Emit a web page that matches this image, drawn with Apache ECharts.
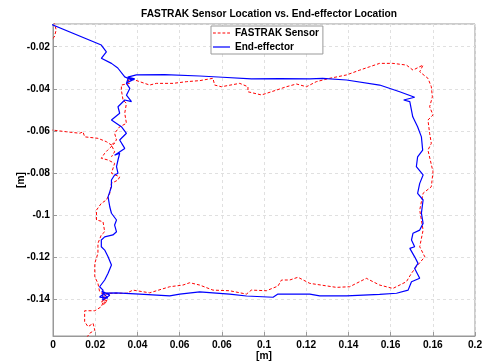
<!DOCTYPE html>
<html><head><meta charset="utf-8">
<script src="https://cdn.jsdelivr.net/npm/echarts@6/dist/echarts.min.js"></script>
<style>html,body{margin:0;padding:0;background:#fff}#c{width:486px;height:364px}</style>
</head><body><div id="c"></div>
<script>
const titleText = 'FASTRAK Sensor Location vs. End-effector Location';
const seriesNames = ['FASTRAK Sensor', 'End-effector'];
const xTickLabels = ['0','0.02','0.04','0.06','0.06','0.1','0.12','0.14','0.16','0.16','0.2'];
const yTickLabels = ['','-0.02','-0.04','-0.06','-0.08','-0.1','-0.12','-0.14'];

const endEffector = [
[-0.001,-0.0093],[0.0229,-0.0192],[0.0253,-0.0224],[0.0229,-0.0255],[0.0277,-0.0279],[0.0307,-0.0301],
[0.0340,-0.0343],[0.0373,-0.0358],[0.0349,-0.0372],[0.0387,-0.0353],[0.0354,-0.0344],[0.0395,-0.0334],
[0.0529,-0.0332],[0.0695,-0.0339],[0.0804,-0.0345],[0.0940,-0.0353],[0.1074,-0.0351],[0.1217,-0.0353],
[0.1278,-0.0350],[0.1391,-0.0358],[0.1548,-0.0382],[0.1643,-0.0414],[0.1714,-0.0440],[0.1662,-0.0453],
[0.1691,-0.0461],[0.1705,-0.0533],[0.1728,-0.0580],[0.1746,-0.0628],[0.1752,-0.0691],[0.1728,-0.0723],
[0.1722,-0.0770],[0.1754,-0.0809],[0.1738,-0.0849],[0.1728,-0.0896],[0.1754,-0.0928],[0.1746,-0.0990],
[0.1754,-0.1039],[0.1738,-0.1071],[0.1706,-0.1086],[0.1699,-0.1118],[0.1714,-0.1150],[0.1691,-0.1158],
[0.1714,-0.1198],[0.1730,-0.1229],[0.1714,-0.1253],[0.1738,-0.1300],[0.1699,-0.1316],[0.1683,-0.1356],
[0.1628,-0.1371],[0.1548,-0.1376],[0.1391,-0.1383],[0.1264,-0.1383],[0.1217,-0.1375],[0.1066,-0.1375],
[0.1043,-0.1390],[0.0917,-0.1384],[0.0837,-0.1375],[0.0695,-0.1364],[0.0601,-0.1375],[0.0553,-0.1383],
[0.0411,-0.1375],[0.0301,-0.1369],[0.0245,-0.1370],[0.0221,-0.1389],[0.0259,-0.1394],[0.0231,-0.1361],
[0.0269,-0.1380],[0.0236,-0.1403],[0.0237,-0.1356],[0.0221,-0.1340],[0.0245,-0.1308],[0.0261,-0.1276],
[0.0277,-0.1237],[0.0261,-0.1198],[0.0245,-0.1166],[0.0229,-0.1150],[0.0229,-0.1118],[0.0245,-0.1103],
[0.0284,-0.1094],[0.0301,-0.1079],[0.0292,-0.1047],[0.0301,-0.1023],[0.0277,-0.0991],[0.0269,-0.0960],
[0.0261,-0.0913],[0.0277,-0.0865],[0.0277,-0.0833],[0.0292,-0.0809],[0.0308,-0.0801],[0.0301,-0.0770],
[0.0308,-0.0738],[0.0316,-0.0706],[0.0292,-0.0715],[0.0340,-0.0683],[0.0316,-0.0643],[0.0348,-0.0611],
[0.0324,-0.0580],[0.0277,-0.0548],[0.0316,-0.0516],[0.0308,-0.0485],[0.0340,-0.0453],[0.0372,-0.0461],
[0.0348,-0.0430],[0.0364,-0.0398],[0.0348,-0.0374],[0.0356,-0.0350],[0.0383,-0.0358]
];

const sensorTopLeft = [[0.0005,-0.0080],[0.0015,-0.0121],[0.0006,-0.0154],[-0.002,-0.0180]];

const sensorMain = [
[-0.004,-0.0594],[0.0000,-0.0596],[0.0064,-0.0604],[0.0127,-0.0611],[0.0142,-0.0604],[0.0150,-0.0628],
[0.0213,-0.0635],[0.0253,-0.0651],[0.0277,-0.0667],[0.0292,-0.0659],[0.0259,-0.0691],[0.0245,-0.0706],
[0.0229,-0.0730],[0.0261,-0.0738],[0.0292,-0.0754],[0.0277,-0.0801],[0.0316,-0.0818],[0.0308,-0.0833],
[0.0277,-0.0849],[0.0269,-0.0896],[0.0253,-0.0928],[0.0229,-0.0944],[0.0206,-0.0976],[0.0206,-0.1023],
[0.0237,-0.1031],[0.0245,-0.1079],[0.0229,-0.1094],[0.0213,-0.1134],[0.0213,-0.1181],[0.0198,-0.1229],
[0.0198,-0.1293],[0.0213,-0.1324],[0.0221,-0.1364],[0.0245,-0.1380],[0.0231,-0.1413],[0.0259,-0.1403],
[0.0240,-0.1427],[0.0253,-0.1371],[0.0348,-0.1371],[0.0379,-0.1356],[0.0458,-0.1369],[0.0553,-0.1340],
[0.0616,-0.1332],[0.0648,-0.1321],[0.0695,-0.1332],[0.0758,-0.1356],[0.0837,-0.1359],[0.0917,-0.1375],
[0.0940,-0.1356],[0.1011,-0.1359],[0.1066,-0.1337],[0.1083,-0.1308],[0.1122,-0.1308],[0.1161,-0.1295],
[0.1217,-0.1324],[0.1343,-0.1343],[0.1406,-0.1340],[0.1485,-0.1300],[0.1548,-0.1332],[0.1611,-0.1348],
[0.1675,-0.1316],[0.1699,-0.1276],[0.1722,-0.1245],[0.1762,-0.1198],[0.1738,-0.1150],[0.1754,-0.1071],
[0.1738,-0.0976],[0.1754,-0.0896],[0.1793,-0.0865],[0.1801,-0.0794],[0.1777,-0.0691],[0.1793,-0.0659],
[0.1785,-0.0611],[0.1777,-0.0548],[0.1801,-0.0524],[0.1785,-0.0485],[0.1798,-0.0438],[0.1793,-0.0390],
[0.1777,-0.0350],[0.1738,-0.0319],[0.1754,-0.0287],[0.1706,-0.0311],[0.1675,-0.0287],[0.1611,-0.0279],
[0.1548,-0.0279],[0.1501,-0.0295],[0.1454,-0.0311],[0.1391,-0.0334],[0.1311,-0.0350],[0.1248,-0.0366],
[0.1201,-0.0390],[0.1154,-0.0377],[0.1106,-0.0390],[0.1059,-0.0406],[0.0988,-0.0429],[0.0924,-0.0414],
[0.0924,-0.0390],[0.0885,-0.0374],[0.0798,-0.0390],[0.0766,-0.0382],[0.0758,-0.0350],[0.0695,-0.0361],
[0.0632,-0.0366],[0.0569,-0.0374],[0.0490,-0.0374],[0.0458,-0.0382],[0.0411,-0.0366],[0.0379,-0.0355],
[0.0356,-0.0358],[0.0364,-0.0374],[0.0324,-0.0382],[0.0324,-0.0406],[0.0332,-0.0453],[0.0348,-0.0469],
[0.0340,-0.0516],[0.0348,-0.0564],[0.0316,-0.0580],[0.0292,-0.0611],[0.0301,-0.0643],[0.0277,-0.0667],
[0.0292,-0.0699],[0.0277,-0.0723]
];

const sensorBottom = [
[0.0245,-0.1395],[0.0229,-0.1435],[0.0198,-0.1454],[0.0150,-0.1454],[0.0150,-0.1506],[0.0142,-0.1514],
[0.0166,-0.1530],[0.0190,-0.1514],[0.0198,-0.1546],[0.0174,-0.1561],[0.0158,-0.1584],[0.0146,-0.1617]
];

const FONT = 'Liberation Sans, Arial, Helvetica, sans-serif';
const chart = echarts.init(document.getElementById('c'), null, {renderer: 'canvas'});

function xFmt(v) {
  const i = Math.round(v / 0.02);
  if (Math.abs(v - i * 0.02) > 1e-6) return '';
  return xTickLabels[i] !== undefined ? xTickLabels[i] : '';
}
function yFmt(v) {
  const i = Math.round(-v / 0.02);
  if (Math.abs(-v - i * 0.02) > 1e-6) return '';
  return yTickLabels[i] !== undefined ? yTickLabels[i] : '';
}

const redStyle = {color: '#ff0000', width: 1, type: [3, 2]};
const blueStyle = {color: '#0000ff', width: 1.2, type: 'solid'};
function redSeries(d) {
  return {name: seriesNames[0], type: 'line', data: d, showSymbol: false, symbol: 'none',
    lineStyle: redStyle, itemStyle: {color: '#ff0000'}, clip: true, animation: false, z: 2};
}

const dashIcon = 'path://M0,0h3v1.3h-3zM5,0h3v1.3h-3zM10,0h3v1.3h-3zM15,0h3v1.3h-3z';
const solidIcon = 'path://M0,0h18v1.3h-18z';

chart.setOption({
  backgroundColor: '#fff',
  animation: false,
  title: {text: titleText, left: 264, top: 4, textAlign: 'center',
    textStyle: {fontFamily: FONT, fontWeight: 'bold', fontSize: 10.2, color: '#000'}},
  legend: {
    show: true,
    data: [{name: seriesNames[0], icon: dashIcon}, {name: seriesNames[1], icon: solidIcon}],
    orient: 'vertical', left: 211, top: 26, itemWidth: 17, itemHeight: 10, itemGap: 4,
    padding: [2, 4, 2, 2], borderColor: '#999', borderWidth: 1, backgroundColor: '#fff',
    textStyle: {fontFamily: FONT, fontWeight: 'bold', fontSize: 10, color: '#000'},
    z: 10
  },
  grid: {left: 53, right: 11, top: 24, bottom: 28, show: true, borderColor: '#999', borderWidth: 1,
    containLabel: false, outerBoundsMode: 'none'},
  xAxis: {
    type: 'value', min: 0, max: 0.2, interval: 0.02,
    name: '[m]', nameLocation: 'middle', nameGap: 15, nameMoveOverlap: false,
    nameTextStyle: {fontFamily: FONT, fontWeight: 'bold', fontSize: 10.2, color: '#000'},
    axisLine: {show: true, onZero: false, lineStyle: {color: '#999'}},
    axisTick: {show: true, inside: true, length: 4, lineStyle: {color: '#999'}},
    axisLabel: {formatter: xFmt, margin: 4, fontFamily: FONT, fontWeight: 'bold', fontSize: 10.2, color: '#000'},
    splitLine: {show: true, lineStyle: {color: '#e0e0e0', type: [3, 3], width: 1}}
  },
  yAxis: {
    type: 'value', min: -0.1574, max: -0.0092, splitNumber: 7,
    name: '[m]', nameLocation: 'middle', nameGap: 27, nameMoveOverlap: false,
    nameTextStyle: {fontFamily: FONT, fontWeight: 'bold', fontSize: 10.2, color: '#000'},
    axisLine: {show: true, onZero: false, lineStyle: {color: '#999'}},
    axisTick: {show: true, inside: true, length: 4, lineStyle: {color: '#999'}},
    axisLabel: {formatter: yFmt, margin: 3, showMinLabel: false, showMaxLabel: false,
      fontFamily: FONT, fontWeight: 'bold', fontSize: 10.2, color: '#000'},
    splitLine: {show: true, lineStyle: {color: '#e0e0e0', type: [3, 3], width: 1}}
  },
  series: [
    redSeries(sensorTopLeft),
    redSeries(sensorMain),
    redSeries(sensorBottom),
    {name: seriesNames[1], type: 'line', data: endEffector, showSymbol: false, symbol: 'none',
      lineStyle: blueStyle, itemStyle: {color: '#0000ff'}, clip: true, animation: false, z: 3}
  ]
});
</script></body></html>
